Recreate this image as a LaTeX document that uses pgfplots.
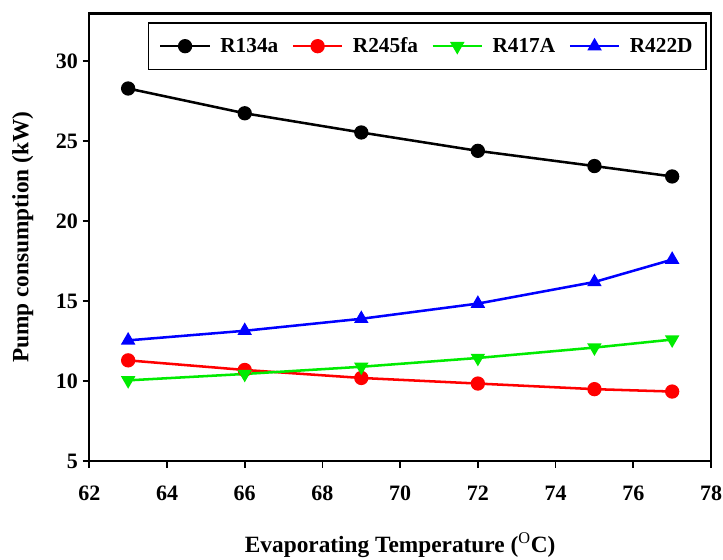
\documentclass[border=0pt]{standalone}
\usepackage{fontspec}
\setmainfont{Liberation Serif}
\usepackage{pgfplots}
\pgfplotsset{compat=1.18}
\definecolor{myred}{RGB}{255,0,0}
\definecolor{mygreen}{RGB}{0,235,0}
\definecolor{myblue}{RGB}{0,0,255}
\begin{document}
\begin{tikzpicture}
\begin{axis}[
  at={(0,0)}, anchor=south west,
  scale only axis,
  width=466.5pt, height=336pt,
  xmin=62, xmax=78, ymin=5, ymax=33,
  xtick={62,64,...,78}, ytick={5,10,...,30},
  tick align=outside, tick pos=left,
  major tick length=5pt,
  axis line style={line width=1.8pt},
  every tick/.style={black, line width=1.3pt},
  /pgf/number format/assume math mode=true,
  xticklabel style={font=\rmfamily\bfseries\fontsize{16.5}{18}\selectfont, yshift=-10pt},
  yticklabel style={font=\rmfamily\bfseries\fontsize{16.5}{18}\selectfont},
  xlabel={Evaporating Temperature ($^{\mathrm{O}}$C)},
  ylabel={Pump consumption (kW)},
  every axis x label/.style={at={(axis description cs:0.5,-0.1875)}, anchor=center,
    font=\rmfamily\bfseries\fontsize{17.5}{20}\selectfont},
  every axis y label/.style={at={(axis description cs:-0.107,0.5)}, rotate=90, anchor=center,
    font=\rmfamily\bfseries\fontsize{17.5}{20}\selectfont},
  legend columns=4,
  legend style={at={(0.993,0.98)}, anchor=north east, draw=black, line width=1.1pt,
    font=\rmfamily\bfseries\fontsize{16}{18}\selectfont, inner xsep=8pt, inner ysep=9pt,
    /tikz/every odd column/.append style={column sep=5pt},
    /tikz/every even column/.append style={column sep=8pt}},
  legend image code/.code={\draw[mark repeat=2,mark phase=2] plot coordinates {(0pt,0pt) (18.5pt,0pt) (37pt,0pt)};},
  legend cell align=left,
  every axis plot/.append style={line width=1.9pt, mark size=4.4pt},
]
\addplot[black, mark=*] coordinates {(63,28.3) (66,26.75) (69,25.55) (72,24.4) (75,23.45) (77,22.8)};
\addlegendentry{R134a}
\addplot[myred, mark=*] coordinates {(63,11.3) (66,10.7) (69,10.2) (72,9.85) (75,9.5) (77,9.35)};
\addlegendentry{R245fa}
\addplot[mygreen, mark=triangle*, mark options={rotate=180}] coordinates {(63,10.05) (66,10.45) (69,10.9) (72,11.45) (75,12.1) (77,12.6)};
\addlegendentry{R417A}
\addplot[myblue, mark=triangle*] coordinates {(63,12.55) (66,13.15) (69,13.9) (72,14.85) (75,16.2) (77,17.6)};
\addlegendentry{R422D}
\end{axis}
\pgfresetboundingbox
\path[use as bounding box] (-67pt,-73.5pt) rectangle (475.5pt,346pt);
\end{tikzpicture}
\end{document}
